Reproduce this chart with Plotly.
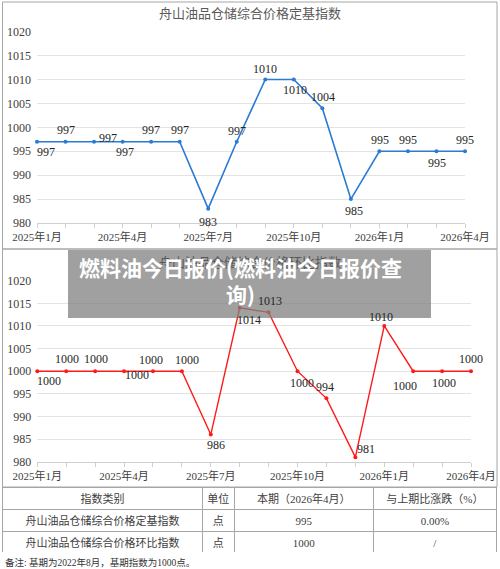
import plotly.graph_objects as go

# ---------------- data ----------------
months = list(range(16))
tick_text = ["2025年1月", "", "", "2025年4月", "", "", "2025年7月", "", "", "2025年10月", "", "",
             "2026年1月", "", "", "2026年4月"]
fixed_base = [997, 997, 997, 997, 997, 997, 983, 997, 1010, 1010, 1004, 985, 995, 995, 995, 995]
chain_index = [1000, 1000, 1000, 1000, 1000, 1000, 986, 1014, 1013, 1000, 994, 981, 1010, 1000, 1000, 1000]

title1 = "舟山油品仓储综合价格定基指数"
title2 = "舟山油品仓储综合价格环比指数"
banner = "燃料油今日报价(燃料油今日报价查<br>询)"

tbl_header = ["指数类别", "单位", "本期（2026年4月）", "与上期比涨跌（%）"]
tbl_col1 = ["舟山油品仓储综合价格定基指数", "舟山油品仓储综合价格环比指数"]
tbl_col2 = ["点", "点"]
tbl_col3 = ["995", "1000"]
tbl_col4 = ["0.00%", "/"]
footnote = "备注: 基期为2022年8月，基期指数为1000点。"

# label offsets (style): (dx, dy) in px, dy positive = down
off1 = [(9, 10), (0, -12), (14, -4), (2, 10), (0, -12), (0, -12), (0, 13), (0, -11),
        (0, -11), (1, 10), (1, -11), (3, 12), (1, -11), (0, -11), (1, 12), (0, -11)]
off2 = [(12, 10), (1, -12), (1, -12), (13, 4), (-2, -11), (5, -11), (5, 10), (9, 12),
        (1, -11), (4, 12), (-1, -11), (11, -8), (-3, -9), (-8, 15), (2, 12), (0, -12)]

W, H = 500, 569
def fx(x): return x / W
def fy(y): return 1 - y / H

NUMFONT = "Liberation Serif, Noto Sans CJK SC"
CJK = "Noto Sans CJK SC"
BLUE = "#2a7bd3"
RED = "#ff1a1a"
GRID = "#e3e3e3"
BORDER = "#a6a6a6"

fig = go.Figure()
fig.add_trace(go.Scatter(x=months, y=fixed_base, mode="lines+markers", xaxis="x", yaxis="y",
                         line=dict(color=BLUE, width=1.6), marker=dict(size=4, color=BLUE),
                         cliponaxis=False, showlegend=False, hoverinfo="skip"))
fig.add_trace(go.Scatter(x=months, y=chain_index, mode="lines+markers", xaxis="x2", yaxis="y2",
                         line=dict(color=RED, width=1.4), marker=dict(size=4, color=RED),
                         cliponaxis=False, showlegend=False, hoverinfo="skip"))

fig.add_trace(go.Table(
    domain=dict(x=[fx(2.5), fx(497)], y=[fy(553), fy(487)]),
    columnwidth=[201, 32, 140, 124],
    header=dict(values=tbl_header, height=22, align="center", fill_color="white",
                line=dict(color=BORDER, width=1),
                font=dict(family=NUMFONT, size=11, color="#404040")),
    cells=dict(values=[tbl_col1, tbl_col2, tbl_col3, tbl_col4], height=22, align="center",
               fill_color="white", line=dict(color=BORDER, width=1),
               font=dict(family=NUMFONT, size=11, color="#404040")),
))

xcommon = dict(range=[0, 15], tickvals=months, ticktext=tick_text, showgrid=False, zeroline=False,
               showline=True, linecolor="#d0d0d0", linewidth=1, ticks="outside", ticklen=4,
               tickcolor="#d0d0d0", tickfont=dict(family=NUMFONT, size=11, color="#404040"),
               fixedrange=True, automargin=False)
ycommon = dict(range=[980, 1020], dtick=5, tick0=980, showgrid=True, gridcolor=GRID, gridwidth=1,
               zeroline=False, showline=False, ticks="", ticklabelstandoff=5,
               tickfont=dict(family=NUMFONT, size=12, color="#404040"), fixedrange=True,
               automargin=False)

fig.update_layout(
    width=W, height=H, margin=dict(l=0, r=0, t=0, b=0, pad=0, autoexpand=False),
    paper_bgcolor="white", plot_bgcolor="white",
    xaxis=dict(domain=[fx(37), fx(465)], anchor="y", **xcommon),
    yaxis=dict(domain=[fy(223), fy(31.7)], anchor="x", **ycommon),
    xaxis2=dict(domain=[fx(37.3), fx(471)], anchor="y2", **xcommon),
    yaxis2=dict(domain=[fy(461.7), fy(280.7)], anchor="x2", **ycommon),
)

shapes = [
    dict(type="rect", xref="paper", yref="paper", x0=fx(2.5), x1=fx(497), y0=fy(249), y1=fy(2),
         line=dict(color=BORDER, width=1), layer="below"),
    dict(type="rect", xref="paper", yref="paper", x0=fx(2.5), x1=fx(497), y0=fy(487), y1=fy(249),
         line=dict(color=BORDER, width=1), layer="below"),
    dict(type="rect", xref="paper", yref="paper", x0=fx(68), x1=fx(431), y0=fy(318), y1=fy(250),
         line=dict(width=0), fillcolor="rgba(128,128,128,0.75)", layer="above"),
]

ann = []
ann.append(dict(xref="paper", yref="paper", x=fx(250), y=fy(13), text=title1, showarrow=False,
                font=dict(family=CJK, size=13, color="#595959"), xanchor="center", yanchor="middle"))
ann.append(dict(xref="paper", yref="paper", x=fx(250), y=fy(261), text=title2, showarrow=False,
                font=dict(family=CJK, size=13, color="#595959"), xanchor="center", yanchor="middle"))
for i, v in enumerate(fixed_base):
    dx, dy = off1[i]
    ann.append(dict(xref="x", yref="y", x=months[i], y=v, text=str(v), showarrow=False,
                    xshift=dx, yshift=-dy, font=dict(family=NUMFONT, size=12, color="#262626")))
for i, v in enumerate(chain_index):
    dx, dy = off2[i]
    ann.append(dict(xref="x2", yref="y2", x=months[i], y=v, text=str(v), showarrow=False,
                    xshift=dx, yshift=-dy, font=dict(family=NUMFONT, size=12, color="#262626")))
ann.append(dict(xref="paper", yref="paper", x=fx(240), y=fy(280), text="<b>" + banner + "</b>",
                showarrow=False, align="center", xanchor="center", yanchor="middle",
                font=dict(family=CJK, size=21, color="white")))
ann.append(dict(xref="paper", yref="paper", x=fx(3), y=fy(562), text=footnote, showarrow=False,
                xanchor="left", yanchor="middle", font=dict(family=NUMFONT, size=9.5, color="#333333")))

fig.update_layout(shapes=shapes, annotations=ann)
fig.write_html("out.html", config={"displayModeBar": False},
               post_script="document.body.style.margin='0';document.body.style.overflow='hidden';")
